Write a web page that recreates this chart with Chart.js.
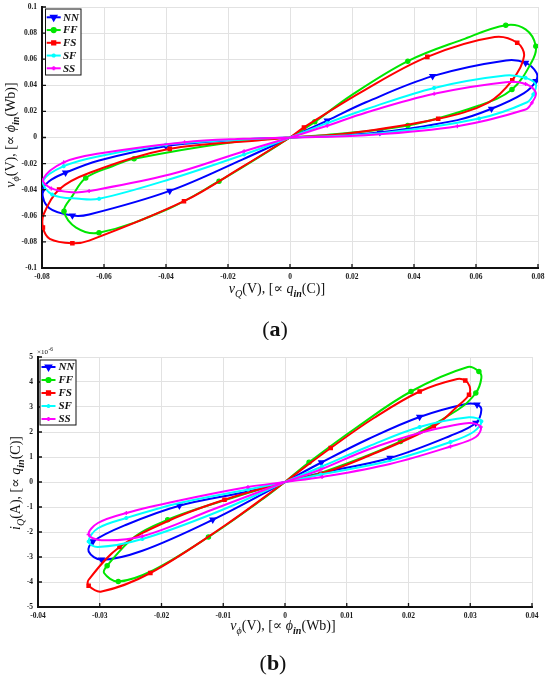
<!DOCTYPE html>
<html>
<head>
<meta charset="utf-8">
<script src="https://cdn.jsdelivr.net/npm/chart.js@4.4.1/dist/chart.umd.min.js"></script>
<style>
  html, body { margin: 0; padding: 0; background: #fff; }
  .box { position: absolute; left: 0; width: 550px; }
</style>
</head>
<body>
<div class="box" style="top:0;height:340px"><canvas id="chartA"></canvas></div>
<div class="box" style="top:340px;height:341px"><canvas id="chartB"></canvas></div>
<script>
  const names = ['NN', 'FF', 'FS', 'SF', 'SS'];

  // (a) v_phi against v_Q, points [x, y] in volts
  const nnA = [[0,0],[0.012,0.013],[0.0245,0.027],[0.046,0.047],[0.0697,0.059],[0.076,0.0572],[0.0795,0.0496],[0.0793,0.0431],[0.0755,0.034],[0.065,0.022],[0.054,0.0133],[0.029,0.004],[0.012,0.001],
    [0,0],[-0.015,-0.0015],[-0.04,-0.0067],[-0.0616,-0.0176],[-0.0724,-0.027],[-0.0777,-0.0335],[-0.0799,-0.041],[-0.0777,-0.054],[-0.0702,-0.0598],[-0.0648,-0.059],[-0.0388,-0.0409],[-0.0154,-0.0169],[0,0]];
  const ffA = [[0,0],[0.008,0.012],[0.0194,0.0317],[0.038,0.0585],[0.0556,0.075],[0.0696,0.086],[0.076,0.0828],[0.0793,0.070],[0.078,0.058],[0.0716,0.0368],[0.061,0.0245],[0.038,0.0092],[0.0094,0.0015],
    [0,0],[-0.0186,-0.0036],[-0.0503,-0.0163],[-0.0573,-0.022],[-0.0659,-0.031],[-0.0704,-0.0455],[-0.0729,-0.0565],[-0.069,-0.069],[-0.0616,-0.073],[-0.039,-0.0544],[-0.0229,-0.0335],[-0.01,-0.015],[0,0]];
  const fsA = [[0,0],[0.0045,0.0077],[0.0231,0.035],[0.0443,0.0618],[0.066,0.077],[0.0733,0.0726],[0.0755,0.0623],[0.0717,0.0439],[0.064,0.0268],[0.0478,0.0143],[0.0185,0.003],
    [0,0],[-0.0105,-0.0023],[-0.0388,-0.0087],[-0.0646,-0.027],[-0.0745,-0.0398],[-0.0795,-0.059],[-0.0797,-0.069],[-0.0775,-0.0776],[-0.0702,-0.081],[-0.0648,-0.079],[-0.0342,-0.0488],[-0.0154,-0.0225],[0,0]];
  const sfA = [[0,0],[0.012,0.011],[0.025,0.022],[0.0465,0.038],[0.0694,0.0475],[0.076,0.0457],[0.0793,0.0406],[0.0785,0.033],[0.0765,0.027],[0.061,0.0145],[0.03,0.0035],
    [0,0],[-0.015,-0.0015],[-0.04,-0.0055],[-0.0616,-0.0143],[-0.073,-0.022],[-0.0797,-0.0335],[-0.0767,-0.0437],[-0.068,-0.047],[-0.0616,-0.047],[-0.0388,-0.032],[-0.0148,-0.013],[0,0]];
  const ssA = [[0,0],[0.012,0.009],[0.0244,0.019],[0.0465,0.0335],[0.0696,0.0424],[0.076,0.041],[0.0793,0.0342],[0.078,0.0265],[0.076,0.0215],[0.054,0.0087],[0.0244,0.0018],
    [0,0],[-0.015,-0.001],[-0.034,-0.0036],[-0.0616,-0.0123],[-0.073,-0.019],[-0.0797,-0.032],[-0.077,-0.039],[-0.0702,-0.042],[-0.0648,-0.041],[-0.0388,-0.0284],[-0.0148,-0.0105],[0,0]];

  // (b) i_Q (x 1e-6 A) against v_phi (V)
  const nnB = [[0,0],[0.0059,0.78],[0.0135,1.72],[0.0218,2.6],[0.0295,3.13],[0.0311,3.09],[0.0318,2.89],[0.0309,2.36],[0.0268,1.85],[0.017,0.96],[0.0058,0.36],
    [0,0],[-0.006,-0.38],[-0.0171,-0.95],[-0.0257,-1.71],[-0.0311,-2.38],[-0.0318,-2.78],[-0.0297,-3.11],[-0.0231,-2.75],[-0.0117,-1.51],[0,0]];
  const ffB = [[0,0],[0.0039,0.79],[0.0117,2.2],[0.0204,3.62],[0.0296,4.6],[0.0314,4.42],[0.0318,4.16],[0.0309,3.56],[0.028,2.89],[0.0187,1.62],[0.0058,0.36],
    [0,0],[-0.0125,-0.94],[-0.019,-1.51],[-0.0243,-2.18],[-0.0288,-3.35],[-0.0293,-3.64],[-0.027,-3.98],[-0.0214,-3.54],[-0.0124,-2.2],[-0.0036,-0.68],[0,0]];
  const fsB = [[0,0],[0.0074,1.36],[0.0144,2.56],[0.0218,3.62],[0.0279,4.12],[0.0292,4.06],[0.0299,3.83],[0.0298,3.49],[0.0279,3.02],[0.0241,2.23],[0.0127,0.96],[0.0058,0.33],
    [0,0],[-0.0098,-0.71],[-0.0185,-1.51],[-0.0268,-2.6],[-0.0318,-3.91],[-0.0318,-4.15],[-0.0297,-4.38],[-0.0218,-3.64],[-0.0098,-1.75],[0,0]];
  const sfB = [[0,0],[0.006,0.62],[0.0135,1.42],[0.0218,2.2],[0.0298,2.59],[0.0318,2.43],[0.0305,2.0],[0.0268,1.6],[0.017,0.85],[0.0058,0.3],
    [0,0],[-0.006,-0.3],[-0.0171,-0.84],[-0.0257,-1.44],[-0.0303,-1.85],[-0.0318,-2.38],[-0.0303,-2.6],[-0.0231,-2.28],[-0.0114,-1.24],[0,0]];
  const ssB = [[0,0],[0.0058,0.5],[0.0135,1.3],[0.0218,1.96],[0.0298,2.36],[0.0317,2.2],[0.0309,1.8],[0.0268,1.42],[0.017,0.72],[0.006,0.2],
    [0,0],[-0.006,-0.2],[-0.0171,-0.74],[-0.0257,-1.24],[-0.0303,-1.64],[-0.0318,-2.1],[-0.0297,-2.33],[-0.0231,-2.17],[-0.0117,-1.1],[0,0]];

  const xTicksA = [-0.08, -0.06, -0.04, -0.02, 0, 0.02, 0.04, 0.06, 0.08];
  const yTicksA = [-0.1, -0.08, -0.06, -0.04, -0.02, 0, 0.02, 0.04, 0.06, 0.08, 0.1];
  const xTicksB = [-0.04, -0.03, -0.02, -0.01, 0, 0.01, 0.02, 0.03, 0.04];
  const yTicksB = [-5, -4, -3, -2, -1, 0, 1, 2, 3, 4, 5];

  const colors = ['#0000ff', '#00e600', '#ff0000', '#00ffff', '#ff00ff'];
  const markers = [
    { style: 'triangle', rot: 180, r: 3 },
    { style: 'circle', rot: 0, r: 2.1 },
    { style: 'rect', rot: 0, r: 2.3 },
    { style: 'star', rot: 0, r: 2 },
    { style: 'cross', rot: 0, r: 2 }
  ];
  const SERIF = '"Liberation Serif", "DejaVu Serif", serif';

  function makeSets(series) {
    return series.map((pts, i) => ({
      label: names[i],
      data: pts,
      showLine: true,
      tension: 0.36,
      borderColor: colors[i],
      backgroundColor: colors[i],
      borderWidth: 2,
      pointStyle: markers[i].style,
      pointRotation: markers[i].rot,
      pointBorderWidth: 1.3,
      pointRadius: c => {
        const p = c.raw;
        if (!p || (p[0] === 0 && p[1] === 0)) return 0;
        return c.dataIndex % 2 ? markers[i].r : 0;
      },
      order: 4 - i
    }));
  }

  function fontFor(kind, size) {
    if (kind === 'i') return `italic ${size}px ${SERIF}`;
    if (kind === 's') return `italic ${size * 0.72}px ${SERIF}`;
    if (kind === 'sb') return `italic bold ${size * 0.72}px ${SERIF}`;
    if (kind === 'b') return `bold ${size}px ${SERIF}`;
    return `${size}px ${SERIF}`;
  }

  function drawRich(ctx, segs, cx, by, size) {
    let total = 0;
    const w = segs.map(([t, k]) => { ctx.font = fontFor(k, size); const m = ctx.measureText(t).width; total += m; return m; });
    let x = cx - total / 2;
    ctx.textAlign = 'left';
    ctx.textBaseline = 'alphabetic';
    segs.forEach(([t, k], i) => {
      ctx.font = fontFor(k, size);
      const sub = k === 's' || k === 'sb';
      ctx.fillText(t, x, by + (sub ? size * 0.28 : 0));
      x += w[i];
    });
  }

  const deco = {
    id: 'deco',
    afterDraw(chart, args, o) {
      const ctx = chart.ctx, a = chart.chartArea;
      const xs = chart.scales.x, ys = chart.scales.y;
      ctx.save();
      // inward tick marks
      ctx.strokeStyle = '#111';
      ctx.lineWidth = 1.3;
      ctx.beginPath();
      xs.ticks.forEach(t => { const p = xs.getPixelForValue(t.value); ctx.moveTo(p, a.bottom); ctx.lineTo(p, a.bottom - 4); });
      ys.ticks.forEach(t => { const p = ys.getPixelForValue(t.value); ctx.moveTo(a.left, p); ctx.lineTo(a.left + 4, p); });
      ctx.stroke();

      ctx.fillStyle = '#111';
      drawRich(ctx, o.xTitle, o.xAt[0], o.xAt[1], 14);
      ctx.save();
      ctx.translate(o.yAt[0], o.yAt[1]);
      ctx.rotate(-Math.PI / 2);
      drawRich(ctx, o.yTitle, 0, 0, 14);
      ctx.restore();

      // panel label
      drawRich(ctx, [['(', 'r'], [o.panel, 'b'], [')', 'r']], o.panelAt[0], o.panelAt[1], 22);

      if (o.exponent) {
        ctx.font = `7px ${SERIF}`;
        ctx.fillText('\u00d710', o.exponent[0], o.exponent[1]);
        const w = ctx.measureText('\u00d710').width;
        ctx.font = `5.5px ${SERIF}`;
        ctx.fillText('-6', o.exponent[0] + w + 0.5, o.exponent[1] - 3);
      }

      // legend box
      const L = o.legend;
      ctx.fillStyle = '#fff';
      ctx.fillRect(L.x, L.y, L.w, L.h);
      ctx.strokeStyle = '#111';
      ctx.lineWidth = 1;
      ctx.strokeRect(L.x, L.y, L.w, L.h);
      names.forEach((n, i) => {
        const y = L.row0 + i * L.dy;
        ctx.strokeStyle = colors[i];
        ctx.lineWidth = 2;
        ctx.beginPath();
        ctx.moveTo(L.line[0], y);
        ctx.lineTo(L.line[1], y);
        ctx.stroke();
        ctx.fillStyle = colors[i];
        Chart.helpers.drawPoint(ctx, {
          pointStyle: markers[i].style, rotation: markers[i].rot,
          radius: markers[i].r, borderWidth: 1.3
        }, (L.line[0] + L.line[1]) / 2, y);
        ctx.fillStyle = '#111';
        ctx.font = `italic bold 11px ${SERIF}`;
        ctx.textBaseline = 'middle';
        ctx.textAlign = 'left';
        ctx.fillText(n, L.text, y + 0.5);
      });
      ctx.restore();
    }
  };

  function axis(ticks, isX, size) {
    return {
      type: 'linear',
      position: isX ? 'bottom' : 'left',
      min: ticks[0],
      max: ticks[ticks.length - 1],
      afterBuildTicks: s => { s.ticks = ticks.map(v => ({ value: v })); },
      afterFit: s => {
        if (isX) { s.height = size; s.paddingLeft = 0; s.paddingRight = 0; }
        else { s.width = size; s.paddingTop = 0; s.paddingBottom = 0; }
      },
      ticks: {
        autoSkip: false,
        maxRotation: 0,
        padding: 5,
        color: '#1a1a1a',
        font: { family: SERIF, weight: 'bold', size: 7.5 },
        callback: v => String(v)
      },
      grid: { color: '#e2e2e2', lineWidth: 1, drawTicks: false },
      border: { display: true, color: '#111', width: 2 }
    };
  }

  function makeChart(id, series, xt, yt, layout, decoOpts, yW) {
    return new Chart(document.getElementById(id), {
      type: 'scatter',
      data: { datasets: makeSets(series) },
      options: {
        responsive: true,
        maintainAspectRatio: false,
        animation: false,
        layout: { padding: layout },
        plugins: { legend: { display: false }, tooltip: { enabled: false }, deco: decoOpts },
        scales: { x: axis(xt, true, 20), y: axis(yt, false, yW) }
      },
      plugins: [deco]
    });
  }

  const phiLabel = [['v', 'i'], ['\u03d5', 's'], ['(V), [\u221d ', 'r'], ['\u03d5', 'i'], ['in', 'sb'], ['(Wb)]', 'r']];

  makeChart('chartA', [nnA, ffA, fsA, sfA, ssA], xTicksA, yTicksA,
    { left: 0, top: 7, right: 12, bottom: 52 },
    {
      xTitle: [['v', 'i'], ['Q', 's'], ['(V), [\u221d ', 'r'], ['q', 'i'], ['in', 'sb'], ['(C)]', 'r']],
      xAt: [277, 293],
      yTitle: phiLabel,
      yAt: [15, 135],
      panel: 'a', panelAt: [275, 336],
      legend: { x: 45.5, y: 9, w: 35.5, h: 66, row0: 17.3, dy: 12.75, line: [46.7, 60.7], text: 63 }
    }, 42);

  makeChart('chartB', [nnB, ffB, fsB, sfB, ssB], xTicksB, yTicksB,
    { left: 0, top: 17, right: 18, bottom: 54 },
    {
      xTitle: phiLabel,
      xAt: [283, 290],
      yTitle: [['i', 'i'], ['Q', 's'], ['(A), [\u221d ', 'r'], ['q', 'i'], ['in', 'sb'], ['(C)]', 'r']],
      yAt: [20, 143],
      panel: 'b', panelAt: [273, 330],
      exponent: [37, 14],
      legend: { x: 40, y: 20, w: 36, h: 65, row0: 27, dy: 13, line: [41.5, 55.5], text: 58.5 }
    }, 38);
</script>
</body>
</html>
